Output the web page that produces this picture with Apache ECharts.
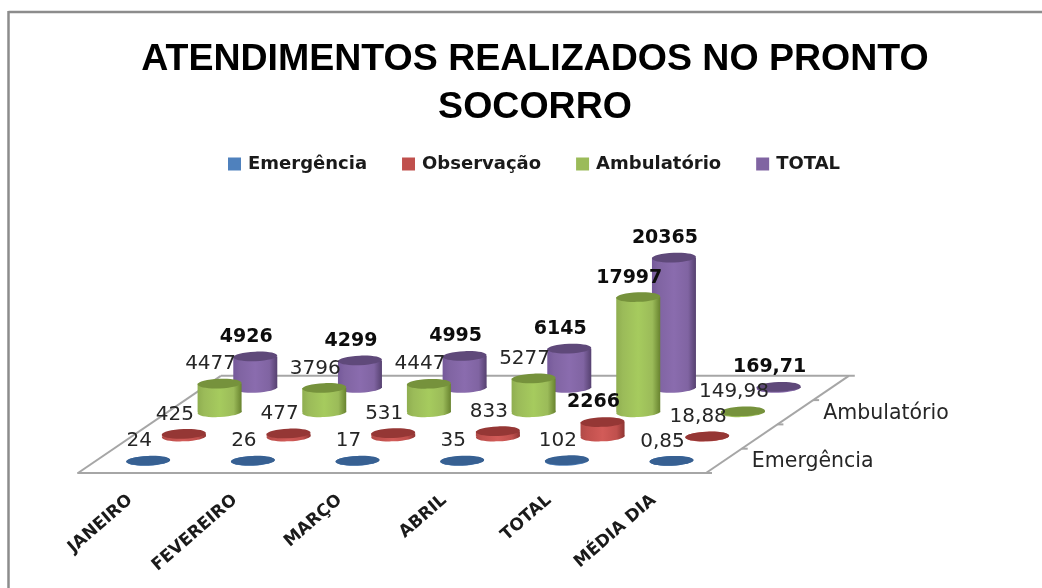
<!DOCTYPE html>
<html><head><meta charset="utf-8">
<style>html,body{margin:0;padding:0;background:#fff}#c{width:1042px;height:588px}</style>
<script src="https://cdn.jsdelivr.net/npm/echarts@6/dist/echarts.min.js"></script>
</head><body><div id="c"></div>
<script>
const categories = ['JANEIRO','FEVEREIRO','MARÇO','ABRIL','TOTAL','MÉDIA DIA'];
const depthNames = ['Emergência','Observação','Ambulatório','TOTAL'];
const emergencia = [24,26,17,35,102,0.85];
const observacao = [425,477,531,833,2266,18.88];
const ambulatorio = [4477,3796,4447,5277,17997,149.98];
const total = [4926,4299,4995,6145,20365,169.71];
const depthAxisLabels = ['Emergência','','Ambulatório',''];
const boldTotalCategory = 4;

const DX = 35.7, DY = 24.3, RX = 22, RY = 4.8;
const palette = [
  {base:'#4F81BD', top:'#376092', edgeL:'#3f6ba0', edgeR:'#2f5480', mid:'#4F81BD'},
  {base:'#C0504D', top:'#953735', edgeL:'#b04a47', edgeR:'#8f3533', mid:'#d25b58'},
  {base:'#9BBB59', top:'#76923C', edgeL:'#8fae50', edgeR:'#68832f', mid:'#a6cb5e'},
  {base:'#8064A2', top:'#5F497A', edgeL:'#75599a', edgeR:'#564170', mid:'#8a6cae'}
];
const fmt = v => String(v).replace('.', ',');

function cylSeries(d, values){
  const c = palette[d];
  return {
    type:'custom', name:depthNames[d], z:5,
    itemStyle:{color:c.base},
    data: values.map((v,i)=>[i,v]),
    encode:{x:0,y:1},
    renderItem(params, api){
      const i = api.value(0), v = api.value(1);
      const b = api.coord([i,0]), t = api.coord([i,v]);
      const ox = (d+.5)*DX, oy = -(d+.5)*DY;
      const x = b[0]+ox, y0 = b[1]+oy, y1 = t[1]+oy;
      const z = (3-d)*5+1;
      const grad = {type:'linear',x:0,y:0,x2:1,y2:0,colorStops:[
        {offset:0,color:c.edgeL},{offset:.15,color:c.base},{offset:.5,color:c.mid},
        {offset:.82,color:c.base},{offset:1,color:c.edgeR}]};
      const bold = d===3 || i===boldTotalCategory && d>0;
      return {type:'group',children:[
        {type:'ellipse',z2:z,x:x,y:y0,rotation:0.04,shape:{cx:0,cy:0,rx:RX,ry:RY},style:{fill:grad}},
        {type:'rect',z2:z,shape:{x:x-RX,y:y1,width:RX*2,height:y0-y1},style:{fill:grad}},
        {type:'ellipse',z2:z+1,x:x,y:y1,rotation:0.04,shape:{cx:0,cy:0,rx:RX,ry:RY},style:{fill:c.top}},
        {type:'text',z2:100,style:{x:x-9,y:y1-19.5,text:fmt(v),align:'center',verticalAlign:'middle',
          fill:bold?'#0d0d0d':'#262626',
          font:(bold?'bold 19px':'20px')+' "DejaVu Sans"'}}
      ]};
    }
  };
}

const floorSeries = {
  type:'custom', name:'floor', z:2, silent:true,
  data:[[0,0]], encode:{x:0,y:1},
  renderItem(params, api){
    const band = api.size([1,0])[0];
    const first = api.coord([0,0]), last = api.coord([categories.length-1,0]);
    const L = first[0]-band/2, R = last[0]+band/2, Y = first[1];
    const n = depthNames.length;
    const line = (x1,y1,x2,y2)=>({type:'line',shape:{x1,y1,x2,y2},style:{stroke:'#a6a6a6',lineWidth:2}});
    const kids = [
      line(L,Y,L+n*DX,Y-n*DY),
      line(L+n*DX,Y-n*DY,R+n*DX+6,Y-n*DY),
      line(R,Y,R+n*DX,Y-n*DY)
    ];
    for(let k=0;k<n;k++){
      kids.push(line(R+k*DX,Y-k*DY,R+k*DX+6,Y-k*DY));
      if(depthAxisLabels[k]) kids.push({type:'text',style:{
        x:R+(k+.5)*DX+28,y:Y-(k+.5)*DY+1,text:depthAxisLabels[k],verticalAlign:'middle',align:'left',
        fill:'#262626',font:'20.5px "DejaVu Sans"'}});
    }
    return {type:'group',children:kids};
  }
};

const chart = echarts.init(document.getElementById('c'),null,{renderer:'canvas'});
chart.setOption({
  animation:false,
  backgroundColor:'#fff',
  title:{text:'ATENDIMENTOS REALIZADOS NO PRONTO\nSOCORRO',left:530,top:31,textAlign:'center',
    textStyle:{fontFamily:'"Liberation Sans"',fontWeight:'bold',fontSize:37.5,lineHeight:48,color:'#000'}},
  legend:{data:depthNames,left:223,top:150,itemWidth:13,itemHeight:13,itemGap:35,icon:'rect',
    textStyle:{fontFamily:'"DejaVu Sans"',fontWeight:'bold',fontSize:18,color:'#1a1a1a',padding:[0,0,0,2]}},
  grid:{left:78,width:628,top:313,height:160},
  xAxis:{type:'category',data:categories,
    axisLine:{lineStyle:{color:'#a6a6a6',width:2}},axisTick:{show:false},
    axisLabel:{rotate:41,interval:0,margin:25,fontFamily:'"DejaVu Sans"',fontWeight:'bold',fontSize:17,color:'#1a1a1a'}},
  yAxis:{type:'value',min:0,max:25000,show:false},
  graphic:[
    {type:'line',shape:{x1:8.5,y1:12,x2:1042,y2:12},style:{stroke:'#8c8c8c',lineWidth:2.5}},
    {type:'line',shape:{x1:8.5,y1:11,x2:8.5,y2:588},style:{stroke:'#8c8c8c',lineWidth:2.5}}
  ],
  series:[floorSeries,
    cylSeries(0,emergencia),cylSeries(1,observacao),cylSeries(2,ambulatorio),cylSeries(3,total)]
});
</script></body></html>
